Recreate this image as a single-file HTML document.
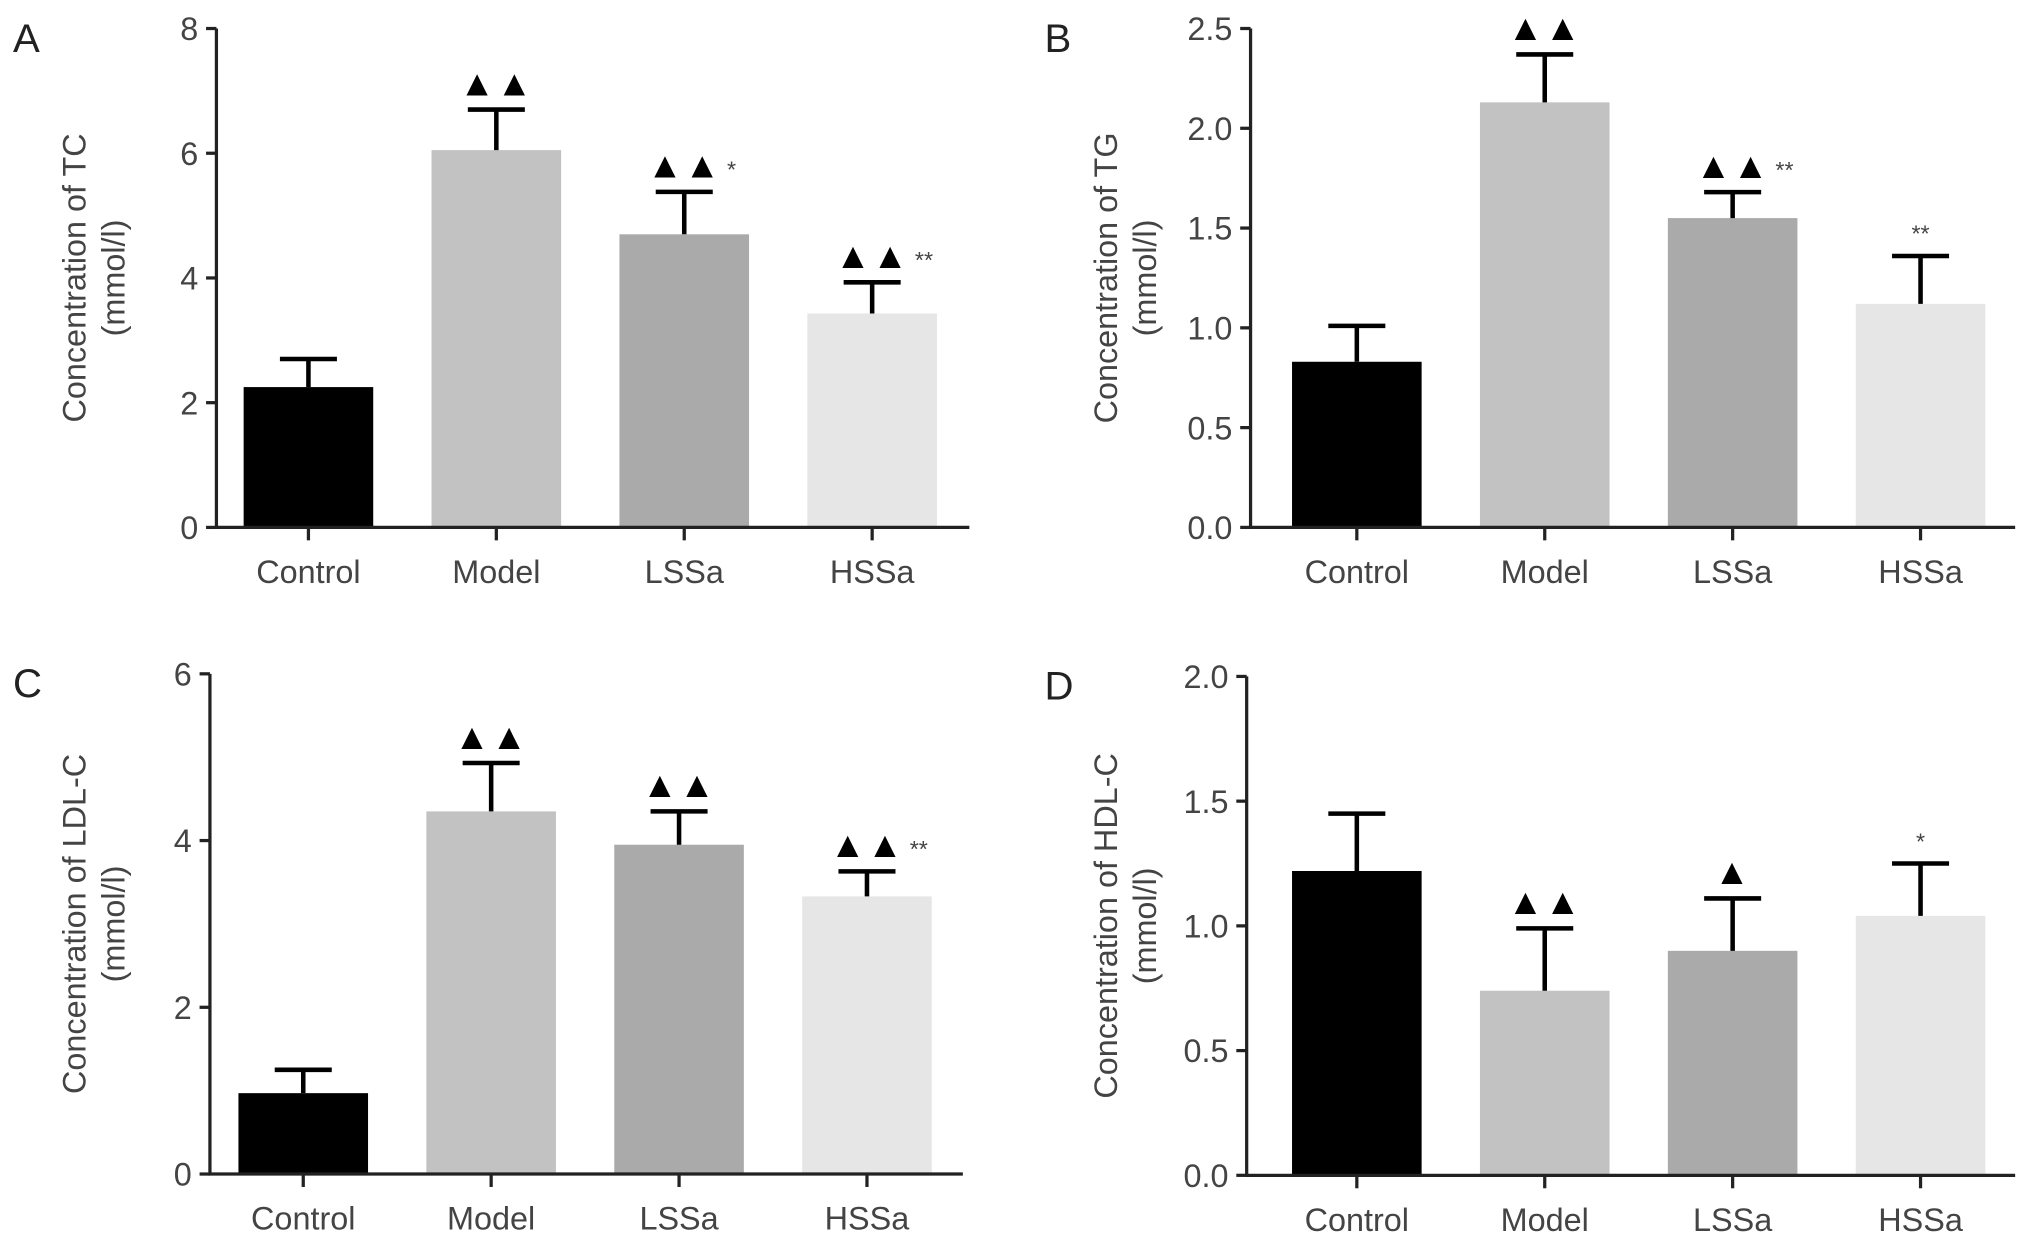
<!DOCTYPE html>
<html><head><meta charset="utf-8"><style>
html,body{margin:0;padding:0;background:#fff}
svg{display:block}
text{font-family:"Liberation Sans",sans-serif}
</style></head><body>
<svg id="fig" width="2032" height="1244" viewBox="0 0 1568 960" preserveAspectRatio="none" xmlns="http://www.w3.org/2000/svg"></svg>
<script>
const categories = ["Control","Model","LSSa","HSSa"];
const tcValues = [2.25, 6.05, 4.7, 3.43];
const tcErrors = [0.45, 0.65, 0.68, 0.5];
const tgValues = [0.83, 2.13, 1.55, 1.12];
const tgErrors = [0.18, 0.24, 0.13, 0.24];
const ldlValues = [0.97, 4.35, 3.95, 3.33];
const ldlErrors = [0.28, 0.58, 0.4, 0.3];
const hdlValues = [1.22, 0.74, 0.9, 1.04];
const hdlErrors = [0.23, 0.25, 0.21, 0.21];
const tcTicks = ["0","2","4","6","8"];
const tgTicks = ["0.0","0.5","1.0","1.5","2.0","2.5"];
const ldlTicks = ["0","2","4","6"];
const hdlTicks = ["0.0","0.5","1.0","1.5","2.0"];
const tcMarks = ["", "▲▲", "▲▲", "▲▲"];
const tcStars = ["", "", "*", "**"];
const tgMarks = ["", "▲▲", "▲▲", ""];
const tgStars = ["", "", "**", "**"];
const ldlMarks = ["", "▲▲", "▲▲", "▲▲"];
const ldlStars = ["", "", "", "**"];
const hdlMarks = ["", "▲▲", "▲", ""];
const hdlStars = ["", "", "", "*"];

const colors = ["#000","#c2c2c2","#aaaaaa","#e6e6e6"];
const svg = document.getElementById('fig');
const NS = "http://www.w3.org/2000/svg";
function mk(tag, attrs, parent){
  const e = document.createElementNS(NS, tag);
  for (const k in attrs) e.setAttribute(k, attrs[k]);
  parent.appendChild(e); return e;
}
function panel(cfg){
  const g = mk('g', {}, svg);
  
  
  const ticks = cfg.ticks, maxV = parseFloat(ticks[ticks.length-1]);
  const y = v => cfg.y0 - (v/maxV)*(cfg.y0-cfg.yTop);
  const bx = i => cfg.firstBar + i*145;
  const L = mk('text', {x: cfg.letterX, y: cfg.yTop+18, 'font-size': 31, fill: '#222'}, g);
  L.textContent = cfg.letter;
  
  
  cfg.values.forEach((v,i)=>{
    const x = bx(i), top = y(v), et = y(v + cfg.errors[i]), cx = x+50;
    const r = mk('rect', {x: x, y: top, width: 100, height: cfg.y0-top, fill: colors[i]}, g);
    
    
    const eb = mk('path', {d: `M${cx} ${top}V${et}M${cx-22} ${et}H${cx+22}`, stroke: '#000', 'stroke-width': 3.5, fill: 'none'}, g);
    
    
    if (cfg.marks[i]) {
      const t = mk('text', {x: cx, y: et-11, 'font-size': 28, 'text-anchor': 'middle', fill: '#000', 'letter-spacing': 1}, g);
      t.textContent = cfg.marks[i];
      
      
    }
    if (cfg.stars[i]) {
      const sx = cfg.marks[i] ? cx + (cfg.marks[i].length===2 ? 33 : 18) : cx;
      const t = mk('text', {x: sx, y: et-11, 'font-size': 18, 'text-anchor': cfg.marks[i]?'start':'middle', fill: '#444'}, g);
      t.textContent = cfg.stars[i];
      
      
    }
    const lab = mk('text', {x: cx, y: cfg.y0+43, 'font-size': 25, 'text-anchor': 'middle', fill: '#444'}, g);
    lab.textContent = categories[i];
    
    
    const tk = mk('line', {x1: cx, x2: cx, y1: cfg.y0, y2: cfg.y0+10, stroke: '#222', 'stroke-width': 2.5}, g);
    
    
  });
  const ax = mk('path', {d: `M${cfg.axisX} ${cfg.yTop}V${cfg.y0}H${cfg.axisRight}`, stroke: '#222', 'stroke-width': 2.5, fill: 'none'}, g);
  
  
  ticks.forEach(t=>{
    const yy = y(parseFloat(t));
    const l = mk('line', {x1: cfg.axisX-8, x2: cfg.axisX, y1: yy, y2: yy, stroke: '#222', 'stroke-width': 2.5}, g);
    
    
    const tx = mk('text', {x: cfg.axisX-14, y: yy+9, 'font-size': 25, 'text-anchor': 'end', fill: '#444'}, g);
    tx.textContent = t;
    
    
  });
  const mid = (cfg.yTop+cfg.y0)/2;
  const tt = mk('text', {transform: `translate(${cfg.titleX},${mid}) rotate(-90)`, 'font-size': 25, 'text-anchor': 'middle', fill: '#444'}, g);
  
  
  const t1 = mk('tspan', {x: 0, dy: 0}, tt); t1.textContent = cfg.title;
  const t2 = mk('tspan', {x: 0, dy: 30}, tt); t2.textContent = '(mmol/l)';
}
panel({letter:'A', letterX:10, axisX:167, axisRight:748, yTop:22, y0:407, firstBar:188, titleX:66, ticks:tcTicks, values:tcValues, errors:tcErrors, marks:tcMarks, stars:tcStars, title:'Concentration of TC'});
panel({letter:'B', letterX:806, axisX:965, axisRight:1555, yTop:22, y0:407, firstBar:997, titleX:862, ticks:tgTicks, values:tgValues, errors:tgErrors, marks:tgMarks, stars:tgStars, title:'Concentration of TG'});
panel({letter:'C', letterX:10, axisX:162, axisRight:743, yTop:520, y0:906, firstBar:184, titleX:66, ticks:ldlTicks, values:ldlValues, errors:ldlErrors, marks:ldlMarks, stars:ldlStars, title:'Concentration of LDL-C'});
panel({letter:'D', letterX:806, axisX:962, axisRight:1555, yTop:522, y0:907, firstBar:997, titleX:862, ticks:hdlTicks, values:hdlValues, errors:hdlErrors, marks:hdlMarks, stars:hdlStars, title:'Concentration of HDL-C'});
</script>
</body></html>
